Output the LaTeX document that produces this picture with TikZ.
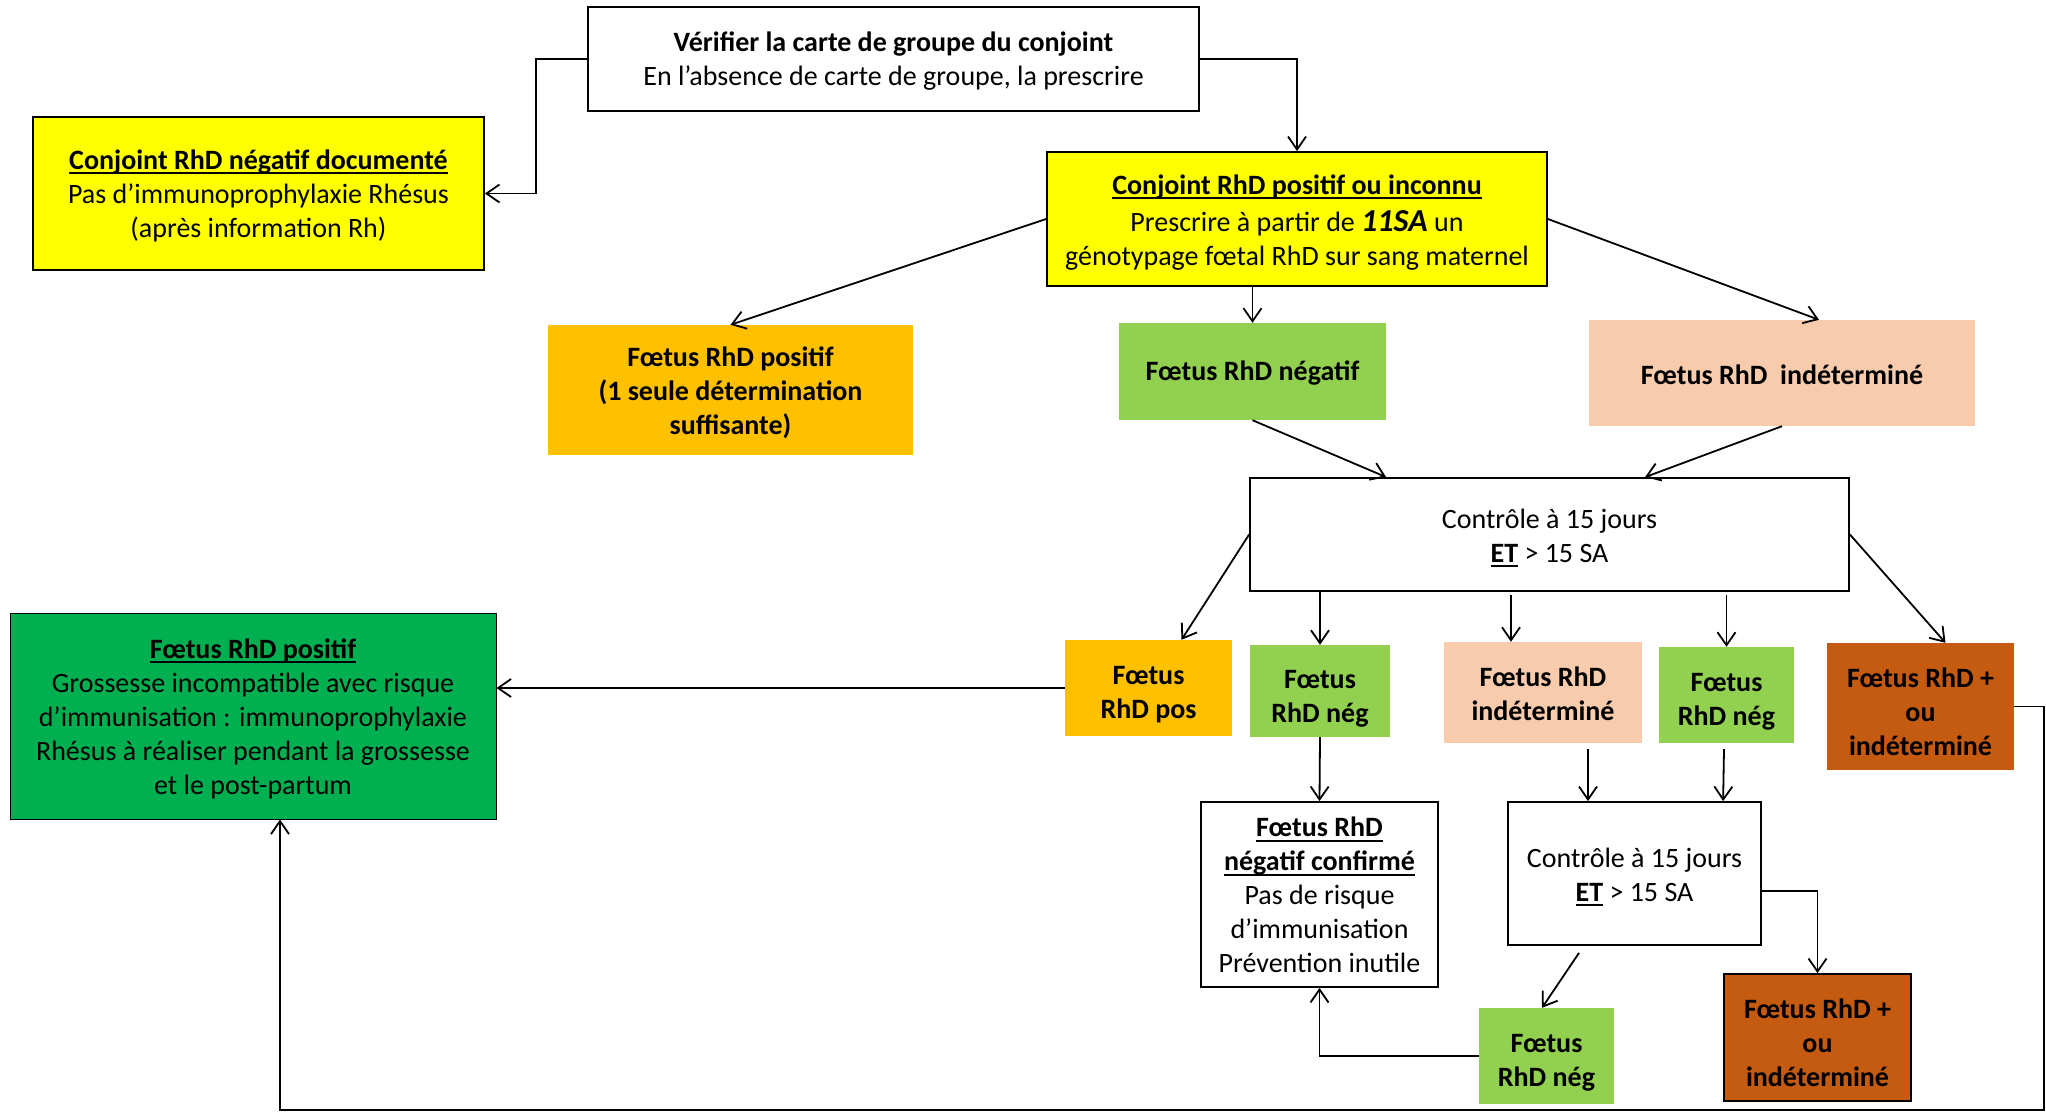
\documentclass[tikz,border=0pt]{standalone}
\usepackage{fontspec}
\setmainfont{Carlito}
\usetikzlibrary{arrows.meta,calc}
\definecolor{cyel}{HTML}{FFFF00}
\definecolor{corange}{HTML}{FFC000}
\definecolor{cgreen}{HTML}{92D050}
\definecolor{cpeach}{HTML}{F8CBAD}
\definecolor{cdgreen}{HTML}{00B050}
\definecolor{cbrown}{HTML}{C55A11}
\newcommand{\ulx}[1]{\setbox0\hbox{#1}\rlap{\vrule height -3pt depth 5pt width \wd0}\box0}
\begin{document}
\begin{tikzpicture}[x=1pt,y=-1pt,
  every node/.style={font=\fontsize{28}{34}\selectfont, align=center, inner sep=0pt, text depth=0pt},
  bold/.style={font=\fontsize{28}{34}\selectfont\bfseries},
  th/.style={text height=#1pt},
  bx/.style={draw=black, line width=1.8pt},
  sz/.style 2 args={minimum width=#1pt, minimum height=#2pt},
  arr/.style={-{Straight Barb[length=13pt,width=18pt]}, line width=1.8pt}]
\useasboundingbox (0,0) rectangle (2046,1113);

\node[bx, th=53, sz={611}{104}] (ver) at (893.5,59) {\textbf{Vérifier la carte de groupe du conjoint}\\En l’absence de carte de groupe, la prescrire};
\node[bx, th=87.4, fill=cyel, sz={451}{153}] (cneg) at (258.5,193.5) {\textbf{\ulx{Conjoint RhD négatif documenté}}\\Pas d’immunoprophylaxie Rhésus\\(après information Rh)};
\node[bx, th=92, fill=cyel, sz={500}{134}] (cpos) at (1297,219) {\textbf{\ulx{Conjoint RhD positif ou inconnu}}\\\vrule height 31pt width 0pt Prescrire à partir de {\fontsize{32}{34}\selectfont\bfseries\itshape 11SA} un\\génotypage fœtal RhD sur sang maternel};
\node[fill=corange, th=88, bold, sz={365}{130}] (fpos) at (730.5,390) {Fœtus RhD positif\\(1 seule détermination\\suffisante)};
\node[fill=cgreen, th=18, bold, sz={267}{97}] (fneg) at (1252.5,371.5) {Fœtus RhD négatif};
\node[fill=cpeach, th=23, bold, sz={386}{106}] (find) at (1782,373) {Fœtus RhD\ \ indéterminé};
\node[bx, th=55, sz={599}{113}] (ctrl1) at (1549.5,534.5) {Contrôle à 15 jours\\\textbf{\ulx{ET}} > 15 SA};
\node[draw, th=156, line width=1pt, fill=cdgreen, sz={486}{206}] (gbig) at (253,716) {\textbf{\ulx{Fœtus RhD positif}}\\Grossesse incompatible avec risque\\d’immunisation : immunoprophylaxie\\Rhésus à réaliser pendant la grossesse\\et le post-partum};
\node[fill=corange, th=60, bold, sz={167}{96}] (fpos2) at (1148.5,688) {Fœtus\\RhD pos};
\node[fill=cgreen, th=63, bold, sz={140}{92}] (fneg1) at (1320,691) {Fœtus\\RhD nég};
\node[fill=cpeach, th=55, bold, sz={198}{101}] (find2) at (1543,692.5) {Fœtus RhD\\indéterminé};
\node[fill=cgreen, th=60, bold, sz={135}{96}] (fneg2) at (1726.5,695) {Fœtus\\RhD nég};
\node[fill=cbrown, th=97, bold, sz={187}{127}] (br1) at (1920.5,706.5) {Fœtus RhD +\\ou\\indéterminé};
\node[bx, th=156, sz={237}{185}] (conf) at (1319.5,894.5) {\textbf{\ulx{Fœtus RhD}}\\\textbf{\ulx{négatif confirmé}}\\Pas de risque\\d’immunisation\\Prévention inutile};
\node[bx, th=55.4, sz={253}{143}] (ctrl2) at (1634.5,873.5) {Contrôle à 15 jours\\\textbf{\ulx{ET}} > 15 SA};
\node[fill=cgreen, th=61, bold, sz={135}{96}] (fneg3) at (1546.5,1056) {Fœtus\\RhD nég};
\node[bx, th=97, fill=cbrown, bold, sz={187}{127}] (br2) at (1817.5,1037.5) {Fœtus RhD +\\ou\\indéterminé};

\coordinate (k1) at (536,59);
\coordinate (r1) at (2044,1110);
\draw[arr] (ver.west) -- (ver.west -| k1) |- (cneg.east);
\draw[arr] (ver.east) -| (cpos.north);
\draw[arr] (cpos.west) -- (fpos.north);
\draw[arr] (cpos.south -| fneg.north) -- (fneg.north);
\draw[arr] (cpos.east) -- ($(find.north)+(37,0)$);
\draw[arr] (fneg.south) -- ($(ctrl1.north west)+(137,0)$);
\draw[arr] (find.south) -- ($(ctrl1.north west)+(396,0)$);
\draw[arr] (ctrl1.west) -- ($(fpos2.north)+(33,0)$);
\draw[arr] (ctrl1.south -| fneg1.north) -- (fneg1.north);
\draw[arr] ($(ctrl1.south)+(-38.5,3)$) -- ($(find2.north)+(-32,0)$);
\draw[arr] ($(ctrl1.south -| fneg2.north)+(0,3)$) -- (fneg2.north);
\draw[arr] (ctrl1.east) -- ($(br1.north)+(25,0)$);
\draw[arr] (br1.east) -| (r1) -| ($(gbig.south)+(27,0)$);
\draw[arr] (fpos2.west) -- (fpos2.west -| gbig.east);
\draw[arr] (fneg1.south) -- (conf.north);
\draw[arr] ($(find2.south)+(45,6)$) -- ($(ctrl2.north)+(-46.5,0)$);
\draw[arr] ($(fneg2.south)+(-2.5,6)$) -- ($(ctrl2.north west)+(216,0)$);
\draw[arr] ($(ctrl2.east)+(0,17.5)$) -| (br2.north);
\draw[arr] ($(ctrl2.south)+(-55.5,7)$) -- ($(fneg3.north)+(-4.5,0)$);
\draw[arr] (fneg3.west) -| (conf.south);
\end{tikzpicture}
\end{document}
